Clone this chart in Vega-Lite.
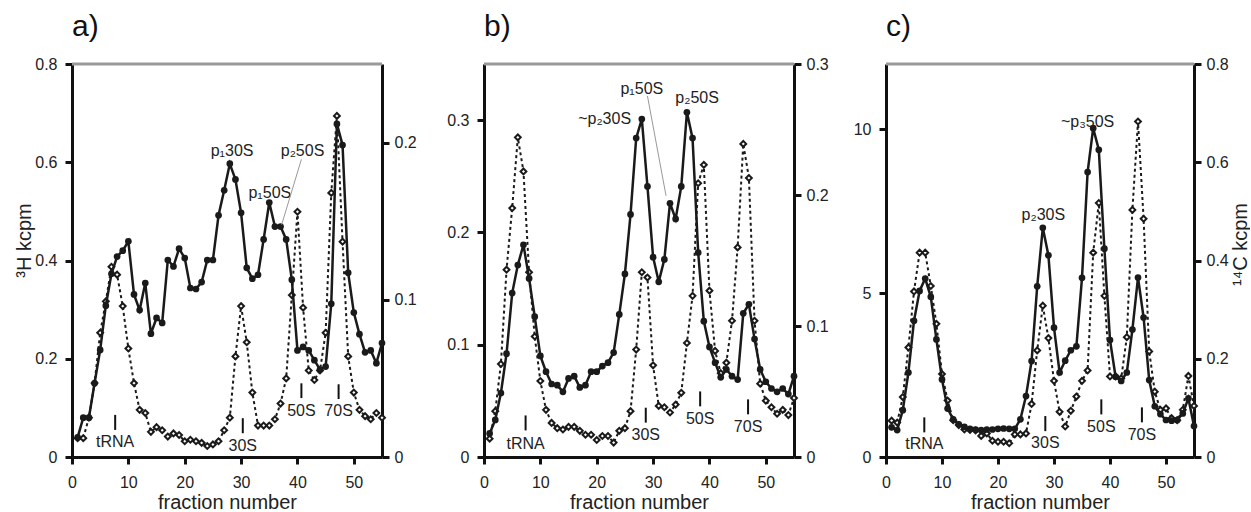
{
  "$schema": "https://vega.github.io/schema/vega-lite/v6.json",
  "padding": {"left": 14, "top": 12, "right": 0, "bottom": 0},
  "config": {
    "font": "Liberation Sans",
    "view": {"stroke": null},
    "axis": {"domainColor": "#111", "domainWidth": 3, "tickColor": "#111", "tickWidth": 3, "tickSize": 7, "labelFontSize": 16, "labelColor": "#222", "titleFontSize": 20, "titleFontWeight": "normal", "titleColor": "#222", "grid": false, "labelFont": "Liberation Sans", "titleFont": "Liberation Sans"},
    "title": {"anchor": "start", "frame": "group", "fontSize": 30, "fontWeight": "normal", "color": "#111", "baseline": "alphabetic", "offset": 14, "font": "Liberation Sans"},
    "text": {"font": "Liberation Sans"}
  },
  "datasets": {
    "a": [
      {"f":1,"h3":0.04,"c14":0.012},{"f":2,"h3":0.08,"c14":0.012},{"f":3,"h3":0.08,"c14":0.025},{"f":4,"h3":0.15,"c14":0.047},{"f":5,"h3":0.218,"c14":0.079},
      {"f":6,"h3":0.308,"c14":0.099},{"f":7,"h3":0.373,"c14":0.121},{"f":8,"h3":0.408,"c14":0.116},{"f":9,"h3":0.42,"c14":0.096},{"f":10,"h3":0.439,"c14":0.069},
      {"f":11,"h3":0.331,"c14":0.047},{"f":12,"h3":0.299,"c14":0.03},{"f":13,"h3":0.354,"c14":0.028},{"f":14,"h3":0.251,"c14":0.016},{"f":15,"h3":0.283,"c14":0.019},
      {"f":16,"h3":0.273,"c14":0.017},{"f":17,"h3":0.401,"c14":0.013},{"f":18,"h3":0.388,"c14":0.015},{"f":19,"h3":0.424,"c14":0.014},{"f":20,"h3":0.405,"c14":0.01},
      {"f":21,"h3":0.344,"c14":0.011},{"f":22,"h3":0.342,"c14":0.01},{"f":23,"h3":0.356,"c14":0.009},{"f":24,"h3":0.401,"c14":0.007},{"f":25,"h3":0.401,"c14":0.008},
      {"f":26,"h3":0.492,"c14":0.01},{"f":27,"h3":0.543,"c14":0.017},{"f":28,"h3":0.597,"c14":0.025},{"f":29,"h3":0.565,"c14":0.064},{"f":30,"h3":0.497,"c14":0.096},
      {"f":31,"h3":0.385,"c14":0.073},{"f":32,"h3":0.363,"c14":0.041},{"f":33,"h3":0.371,"c14":0.02},{"f":34,"h3":0.443,"c14":0.02},{"f":35,"h3":0.518,"c14":0.02},
      {"f":36,"h3":0.469,"c14":0.024},{"f":37,"h3":0.469,"c14":0.034},{"f":38,"h3":0.443,"c14":0.05},{"f":39,"h3":0.361,"c14":0.103},{"f":40,"h3":0.217,"c14":0.156},
      {"f":41,"h3":0.224,"c14":0.095},{"f":42,"h3":0.217,"c14":0.055},{"f":43,"h3":0.197,"c14":0.049},{"f":44,"h3":0.178,"c14":0.055},{"f":45,"h3":0.184,"c14":0.079},
      {"f":46,"h3":0.312,"c14":0.168},{"f":47,"h3":0.678,"c14":0.217},{"f":48,"h3":0.635,"c14":0.137},{"f":49,"h3":0.375,"c14":0.064},{"f":50,"h3":0.294,"c14":0.041},
      {"f":51,"h3":0.25,"c14":0.03},{"f":52,"h3":0.213,"c14":0.026},{"f":53,"h3":0.217,"c14":0.024},{"f":54,"h3":0.191,"c14":0.028},{"f":55,"h3":0.232,"c14":0.025}
    ],
    "b": [
      {"f":1,"h3":0.021,"c14":0.014},{"f":2,"h3":0.033,"c14":0.035},{"f":3,"h3":0.057,"c14":0.071},{"f":4,"h3":0.092,"c14":0.143},{"f":5,"h3":0.146,"c14":0.19},
      {"f":6,"h3":0.171,"c14":0.244},{"f":7,"h3":0.189,"c14":0.218},{"f":8,"h3":0.159,"c14":0.141},{"f":9,"h3":0.125,"c14":0.092},{"f":10,"h3":0.09,"c14":0.058},
      {"f":11,"h3":0.076,"c14":0.036},{"f":12,"h3":0.065,"c14":0.026},{"f":13,"h3":0.064,"c14":0.022},{"f":14,"h3":0.058,"c14":0.021},{"f":15,"h3":0.07,"c14":0.023},
      {"f":16,"h3":0.072,"c14":0.023},{"f":17,"h3":0.062,"c14":0.02},{"f":18,"h3":0.064,"c14":0.017},{"f":19,"h3":0.076,"c14":0.017},{"f":20,"h3":0.076,"c14":0.013},
      {"f":21,"h3":0.081,"c14":0.016},{"f":22,"h3":0.084,"c14":0.016},{"f":23,"h3":0.093,"c14":0.011},{"f":24,"h3":0.127,"c14":0.02},{"f":25,"h3":0.163,"c14":0.022},
      {"f":26,"h3":0.216,"c14":0.035},{"f":27,"h3":0.284,"c14":0.082},{"f":28,"h3":0.301,"c14":0.141},{"f":29,"h3":0.241,"c14":0.137},{"f":30,"h3":0.178,"c14":0.07},
      {"f":31,"h3":0.156,"c14":0.039},{"f":32,"h3":0.176,"c14":0.038},{"f":33,"h3":0.226,"c14":0.034},{"f":34,"h3":0.212,"c14":0.04},{"f":35,"h3":0.241,"c14":0.049},
      {"f":36,"h3":0.307,"c14":0.087},{"f":37,"h3":0.284,"c14":0.123},{"f":38,"h3":0.182,"c14":0.209},{"f":39,"h3":0.121,"c14":0.223},{"f":40,"h3":0.098,"c14":0.127},
      {"f":41,"h3":0.084,"c14":0.081},{"f":42,"h3":0.071,"c14":0.064},{"f":43,"h3":0.078,"c14":0.072},{"f":44,"h3":0.072,"c14":0.104},{"f":45,"h3":0.069,"c14":0.16},
      {"f":46,"h3":0.128,"c14":0.239},{"f":47,"h3":0.136,"c14":0.213},{"f":48,"h3":0.105,"c14":0.104},{"f":49,"h3":0.078,"c14":0.056},{"f":50,"h3":0.067,"c14":0.043},
      {"f":51,"h3":0.061,"c14":0.038},{"f":52,"h3":0.058,"c14":0.033},{"f":53,"h3":0.061,"c14":0.036},{"f":54,"h3":0.056,"c14":0.032},{"f":55,"h3":0.072,"c14":0.045}
    ],
    "c": [
      {"f":1,"h3":0.905,"c14":0.074},{"f":2,"h3":0.823,"c14":0.07},{"f":3,"h3":1.43,"c14":0.122},{"f":4,"h3":2.58,"c14":0.223},{"f":5,"h3":4.16,"c14":0.337},
      {"f":6,"h3":5.07,"c14":0.416},{"f":7,"h3":5.45,"c14":0.416},{"f":8,"h3":4.89,"c14":0.348},{"f":9,"h3":3.59,"c14":0.271},{"f":10,"h3":2.37,"c14":0.169},
      {"f":11,"h3":1.48,"c14":0.115},{"f":12,"h3":1.15,"c14":0.075},{"f":13,"h3":1.0,"c14":0.065},{"f":14,"h3":0.92,"c14":0.056},{"f":15,"h3":0.86,"c14":0.055},
      {"f":16,"h3":0.84,"c14":0.054},{"f":17,"h3":0.82,"c14":0.043},{"f":18,"h3":0.84,"c14":0.048},{"f":19,"h3":0.84,"c14":0.033},{"f":20,"h3":0.86,"c14":0.031},
      {"f":21,"h3":0.87,"c14":0.031},{"f":22,"h3":0.86,"c14":0.028},{"f":23,"h3":0.86,"c14":0.046},{"f":24,"h3":1.15,"c14":0.046},{"f":25,"h3":1.86,"c14":0.048},
      {"f":26,"h3":2.93,"c14":0.108},{"f":27,"h3":5.21,"c14":0.217},{"f":28,"h3":7.0,"c14":0.308},{"f":29,"h3":6.16,"c14":0.242},{"f":30,"h3":3.95,"c14":0.155},
      {"f":31,"h3":2.58,"c14":0.092},{"f":32,"h3":2.94,"c14":0.062},{"f":33,"h3":3.26,"c14":0.094},{"f":34,"h3":3.38,"c14":0.123},{"f":35,"h3":5.47,"c14":0.155},
      {"f":36,"h3":8.7,"c14":0.176},{"f":37,"h3":10.04,"c14":0.416},{"f":38,"h3":9.38,"c14":0.517},{"f":39,"h3":6.36,"c14":0.328},{"f":40,"h3":3.57,"c14":0.164},
      {"f":41,"h3":2.45,"c14":0.164},{"f":42,"h3":2.32,"c14":0.16},{"f":43,"h3":2.58,"c14":0.244},{"f":44,"h3":3.89,"c14":0.503},{"f":45,"h3":5.48,"c14":0.683},
      {"f":46,"h3":4.26,"c14":0.485},{"f":47,"h3":2.35,"c14":0.215},{"f":48,"h3":1.55,"c14":0.133},{"f":49,"h3":1.31,"c14":0.096},{"f":50,"h3":1.13,"c14":0.099},
      {"f":51,"h3":1.11,"c14":0.079},{"f":52,"h3":1.13,"c14":0.075},{"f":53,"h3":1.33,"c14":0.096},{"f":54,"h3":1.79,"c14":0.165},{"f":55,"h3":0.945,"c14":0.104}
    ],
    "a_top": [{"f":0,"f2":55,"h3":0.8}],
    "b_top": [{"f":0,"f2":55,"h3":0.35}],
    "c_top": [{"f":0,"f2":55,"h3":12}],
    "a_marks": [
      {"f":7.66,"h3":0.0857,"v2":0.0551,"ty":0.0197,"label":"tRNA"},
      {"f":30.3,"h3":0.079,"v2":0.0484,"ty":0.0129,"label":"30S"},
      {"f":40.7,"h3":0.15,"v2":0.12,"ty":0.0837,"label":"50S"},
      {"f":47.3,"h3":0.148,"v2":0.118,"ty":0.0837,"label":"70S"}
    ],
    "b_marks": [
      {"f":7.38,"h3":0.037,"v2":0.0237,"ty":0.0075,"label":"tRNA"},
      {"f":28.7,"h3":0.0439,"v2":0.0306,"ty":0.0148,"label":"30S"},
      {"f":38.35,"h3":0.0584,"v2":0.0451,"ty":0.0297,"label":"50S"},
      {"f":46.85,"h3":0.0513,"v2":0.038,"ty":0.0222,"label":"70S"}
    ],
    "c_marks": [
      {"f":6.84,"h3":1.21,"v2":0.753,"ty":0.235,"label":"tRNA"},
      {"f":28.45,"h3":1.25,"v2":0.79,"ty":0.265,"label":"30S"},
      {"f":38.45,"h3":1.76,"v2":1.3,"ty":0.77,"label":"50S"},
      {"f":45.7,"h3":1.515,"v2":1.058,"ty":0.518,"label":"70S"}
    ],
    "a_peaks": [
      {"f":28.4,"h3":0.612,"label":"p₁30S"},
      {"f":40.9,"h3":0.612,"label":"p₂50S"},
      {"f":35.1,"h3":0.528,"label":"p₁50S"}
    ],
    "b_peaks": [
      {"f":21.4,"h3":0.2964,"label":"~p₂30S"},
      {"f":28.0,"h3":0.3236,"label":"p₁50S"},
      {"f":37.8,"h3":0.3156,"label":"p₂50S"}
    ],
    "c_peaks": [
      {"f":36.0,"h3":10.07,"label":"~p₃50S"},
      {"f":28.1,"h3":7.23,"label":"p₂30S"}
    ],
    "a_lead": [{"f":40.7,"h3":0.606,"f2":37.2,"v2":0.473}],
    "b_lead": [{"f":29.0,"h3":0.3215,"f2":32.3,"v2":0.2326}]
  },
  "bounds": "flush",
  "spacing": 102,
  "hconcat": [
    {
      "width": 310, "height": 393,
      "title": {"text": "a)"},
      "encoding": {"x": {"field": "f", "type": "quantitative", "scale": {"domain": [0, 55], "nice": false, "zero": false}, "axis": {"values": [0,10,20,30,40,50], "labelFlush": false, "labelPadding": 10, "title": "fraction number", "titlePadding": 2}}},
      "resolve": {"scale": {"y": "independent"}},
      "layer": [
        {"data": {"name": "a"}, "mark": {"type": "line", "color": "#1a1a1a", "strokeWidth": 2, "strokeDash": [3, 3], "point": {"shape": "diamond", "filled": true, "fill": "white", "stroke": "#1a1a1a", "strokeWidth": 2, "size": 34}},
         "encoding": {"y": {"field": "c14", "type": "quantitative", "scale": {"domain": [0, 0.25], "nice": false}, "axis": {"orient": "right", "values": [0, 0.1, 0.2], "format": "~r", "labelPadding": 5, "title": null}}}},
        {"encoding": {"y": {"field": "h3", "type": "quantitative", "scale": {"domain": [0, 0.8], "nice": false}, "axis": {"values": [0, 0.2, 0.4, 0.6, 0.8], "format": "~r", "labelPadding": 8, "title": "³H kcpm", "titleX": -38, "titleY": 176}}},
         "layer": [
          {"data": {"name": "a_top"}, "mark": {"type": "rule", "color": "#999", "strokeWidth": 3}, "encoding": {"x2": {"field": "f2"}}},
          {"data": {"name": "a"}, "mark": {"type": "line", "color": "#1a1a1a", "strokeWidth": 2.5, "point": {"filled": true, "color": "#1a1a1a", "size": 45}}},
          {"data": {"name": "a_marks"}, "mark": {"type": "rule", "color": "#111", "strokeWidth": 2}, "encoding": {"y2": {"field": "v2"}}},
          {"data": {"name": "a_marks"}, "mark": {"type": "text", "fontSize": 16, "color": "#222", "align": "center", "baseline": "alphabetic"},
           "encoding": {"y": {"field": "ty", "type": "quantitative", "scale": {"domain": [0, 0.8], "nice": false}, "axis": {"values": [0, 0.2, 0.4, 0.6, 0.8], "format": "~r", "labelPadding": 8, "title": "³H kcpm", "titleX": -38, "titleY": 176}}, "text": {"field": "label"}}},
          {"data": {"name": "a_peaks"}, "mark": {"type": "text", "fontSize": 16, "color": "#222", "align": "center", "baseline": "alphabetic"}, "encoding": {"text": {"field": "label"}}},
          {"data": {"name": "a_lead"}, "mark": {"type": "rule", "color": "#999", "strokeWidth": 1}, "encoding": {"x2": {"field": "f2"}, "y2": {"field": "v2"}}}
        ]}
      ]
    },
    {
      "bounds": "flush",
      "spacing": 92,
      "hconcat": [
        {
          "width": 310, "height": 393,
          "title": {"text": "b)"},
          "encoding": {"x": {"field": "f", "type": "quantitative", "scale": {"domain": [0, 55], "nice": false, "zero": false}, "axis": {"values": [0,10,20,30,40,50], "labelFlush": false, "labelPadding": 10, "title": "fraction number", "titlePadding": 2}}},
          "resolve": {"scale": {"y": "independent"}},
          "layer": [
            {"data": {"name": "b"}, "mark": {"type": "line", "color": "#1a1a1a", "strokeWidth": 2, "strokeDash": [3, 3], "point": {"shape": "diamond", "filled": true, "fill": "white", "stroke": "#1a1a1a", "strokeWidth": 2, "size": 34}},
             "encoding": {"y": {"field": "c14", "type": "quantitative", "scale": {"domain": [0, 0.3], "nice": false}, "axis": {"orient": "right", "values": [0, 0.1, 0.2, 0.3], "format": "~r", "labelPadding": 5, "title": null}}}},
            {"encoding": {"y": {"field": "h3", "type": "quantitative", "scale": {"domain": [0, 0.35], "nice": false}, "axis": {"values": [0, 0.1, 0.2, 0.3], "format": "~r", "labelPadding": 8, "title": null}}},
             "layer": [
              {"data": {"name": "b_top"}, "mark": {"type": "rule", "color": "#999", "strokeWidth": 3}, "encoding": {"x2": {"field": "f2"}}},
              {"data": {"name": "b"}, "mark": {"type": "line", "color": "#1a1a1a", "strokeWidth": 2.5, "point": {"filled": true, "color": "#1a1a1a", "size": 45}}},
              {"data": {"name": "b_marks"}, "mark": {"type": "rule", "color": "#111", "strokeWidth": 2}, "encoding": {"y2": {"field": "v2"}}},
              {"data": {"name": "b_marks"}, "mark": {"type": "text", "fontSize": 16, "color": "#222", "align": "center", "baseline": "alphabetic"},
               "encoding": {"y": {"field": "ty", "type": "quantitative", "scale": {"domain": [0, 0.35], "nice": false}, "axis": {"values": [0, 0.1, 0.2, 0.3], "format": "~r", "labelPadding": 8, "title": null}}, "text": {"field": "label"}}},
              {"data": {"name": "b_peaks"}, "mark": {"type": "text", "fontSize": 16, "color": "#222", "align": "center", "baseline": "alphabetic"}, "encoding": {"text": {"field": "label"}}},
              {"data": {"name": "b_lead"}, "mark": {"type": "rule", "color": "#999", "strokeWidth": 1}, "encoding": {"x2": {"field": "f2"}, "y2": {"field": "v2"}}}
            ]}
          ]
        },
        {
          "width": 308, "height": 393,
          "title": {"text": "c)"},
          "encoding": {"x": {"field": "f", "type": "quantitative", "scale": {"domain": [0, 55], "nice": false, "zero": false}, "axis": {"values": [0,10,20,30,40,50], "labelFlush": false, "labelPadding": 10, "title": "fraction number", "titlePadding": 2}}},
          "resolve": {"scale": {"y": "independent"}},
          "layer": [
            {"data": {"name": "c"}, "mark": {"type": "line", "color": "#1a1a1a", "strokeWidth": 2, "strokeDash": [3, 3], "point": {"shape": "diamond", "filled": true, "fill": "white", "stroke": "#1a1a1a", "strokeWidth": 2, "size": 34}},
             "encoding": {"y": {"field": "c14", "type": "quantitative", "scale": {"domain": [0, 0.8], "nice": false}, "axis": {"orient": "right", "values": [0, 0.2, 0.4, 0.6, 0.8], "format": "~r", "labelPadding": 5, "title": "¹⁴C kcpm", "titleAngle": 270, "titleBaseline": "bottom", "titleX": 56, "titleY": 180}}}},
            {"encoding": {"y": {"field": "h3", "type": "quantitative", "scale": {"domain": [0, 12], "nice": false}, "axis": {"values": [0, 5, 10], "format": "~r", "labelPadding": 8, "title": null}}},
             "layer": [
              {"data": {"name": "c_top"}, "mark": {"type": "rule", "color": "#999", "strokeWidth": 3}, "encoding": {"x2": {"field": "f2"}}},
              {"data": {"name": "c"}, "mark": {"type": "line", "color": "#1a1a1a", "strokeWidth": 2.5, "point": {"filled": true, "color": "#1a1a1a", "size": 45}}},
              {"data": {"name": "c_marks"}, "mark": {"type": "rule", "color": "#111", "strokeWidth": 2}, "encoding": {"y2": {"field": "v2"}}},
              {"data": {"name": "c_marks"}, "mark": {"type": "text", "fontSize": 16, "color": "#222", "align": "center", "baseline": "alphabetic"},
               "encoding": {"y": {"field": "ty", "type": "quantitative", "scale": {"domain": [0, 12], "nice": false}, "axis": {"values": [0, 5, 10], "format": "~r", "labelPadding": 8, "title": null}}, "text": {"field": "label"}}},
              {"data": {"name": "c_peaks"}, "mark": {"type": "text", "fontSize": 16, "color": "#222", "align": "center", "baseline": "alphabetic"}, "encoding": {"text": {"field": "label"}}}
            ]}
          ]
        }
      ]
    }
  ]
}
